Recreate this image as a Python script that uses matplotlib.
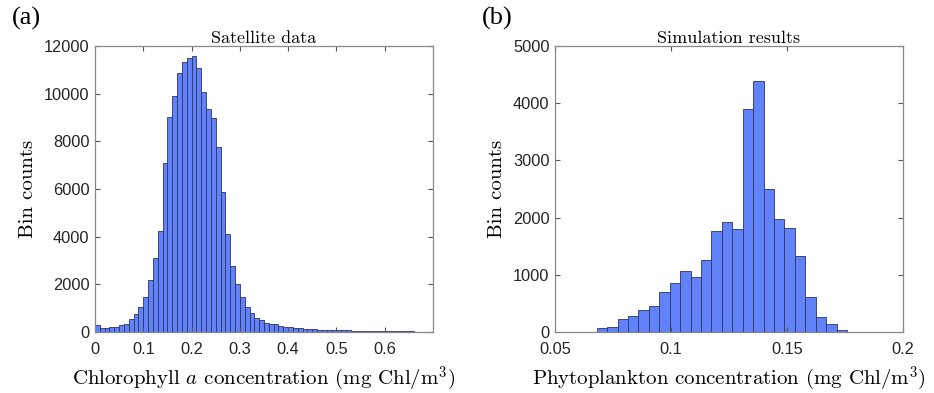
import matplotlib
matplotlib.use('agg')
import matplotlib.pyplot as plt
import numpy as np

# satellite chlorophyll histogram, bins of 0.01 from 0 to 0.7
sat_edges = np.round(np.arange(0, 0.7001, 0.01), 3)
sat_counts = [300, 150, 170, 190, 230, 290, 340, 530, 740, 1060,
              1480, 2180, 3090, 4220, 7080, 9040, 9900, 10850, 11330, 11480,
              11580, 11080, 10080, 9370, 8970, 7750, 5860, 4120, 2780, 2000,
              1480, 1060, 810, 600, 500, 390, 350, 320, 260, 220,
              190, 170, 150, 140, 110, 110, 100, 90, 90, 80,
              80, 70, 70, 60, 60, 55, 50, 50, 45, 45,
              40, 40, 35, 35, 30, 30, 20, 0, 0, 0]
sat_xticks = [0, 0.1, 0.2, 0.3, 0.4, 0.5, 0.6]
sat_xticklabels = ['0', '0.1', '0.2', '0.3', '0.4', '0.5', '0.6']
sat_yticks = [0, 2000, 4000, 6000, 8000, 10000, 12000]

# simulated phytoplankton histogram
sim_edges = 0.068 + 0.0045 * np.arange(25)
sim_counts = [70, 87, 227, 273, 385, 455, 700, 862, 1066, 961,
              1252, 1766, 1928, 1800, 3898, 4388, 2500, 1975, 1818, 1322,
              612, 262, 133, 35]
sim_xticks = [0.05, 0.1, 0.15, 0.2]
sim_xticklabels = ['0.05', '0.1', '0.15', '0.2']
sim_yticks = [0, 1000, 2000, 3000, 4000, 5000]

plt.rcParams['mathtext.fontset'] = 'cm'
face = '#6282fa'
edge = '#2b3468'
spine_col = '#888888'
tick_font = {'family': 'Liberation Sans', 'size': 11.8}
label_font = {'family': 'cmr10', 'size': 15}
title_font = {'family': 'cmr10', 'size': 13}

fig = plt.figure(figsize=(9.34, 3.93), dpi=100)
ax1 = fig.add_axes([0.1017, 0.1552, 0.3619, 0.7278])
ax2 = fig.add_axes([0.5942, 0.1552, 0.3723, 0.7278])


def style(ax, xticks, xticklabels, yticks):
    ax.set_xticks(xticks)
    ax.set_xticklabels(xticklabels, fontdict=tick_font, color='#262626')
    ax.set_yticks(yticks)
    ax.set_yticklabels([str(v) for v in yticks], fontdict=tick_font, color='#262626')
    ax.tick_params(direction='in', length=3.5, width=0.8, color='#555555',
                   top=True, right=True)
    ax.tick_params(axis='y', pad=4)
    ax.tick_params(axis='x', pad=7)
    for s in ax.spines.values():
        s.set_color(spine_col)
        s.set_linewidth(0.9)
    ax.set_ylabel('Bin counts', fontdict=label_font, labelpad=5)


ax1.bar(sat_edges[:-1], sat_counts, width=np.diff(sat_edges), align='edge',
        color=face, edgecolor=edge, linewidth=0.6)
ax1.set_xlim(0, 0.7)
ax1.set_ylim(0, 12000)
style(ax1, sat_xticks, sat_xticklabels, sat_yticks)
ax1.set_xlabel(r'Chlorophyll $a$ concentration (mg Chl/m$^3$)', fontdict=label_font, labelpad=6)
ax1.set_title('Satellite data', fontdict=title_font, pad=2)

ax2.bar(sim_edges[:-1], sim_counts, width=np.diff(sim_edges), align='edge',
        color=face, edgecolor=edge, linewidth=0.6)
ax2.set_xlim(0.05, 0.2)
ax2.set_ylim(0, 5000)
style(ax2, sim_xticks, sim_xticklabels, sim_yticks)
ax2.set_xlabel(r'Phytoplankton concentration (mg Chl/m$^3$)', fontdict=label_font, labelpad=6)
ax2.set_title('Simulation results', fontdict=title_font, pad=2)

fig.text(0.013, 0.952, '(a)', family='Liberation Serif', fontsize=19, va='center')
fig.text(0.516, 0.952, '(b)', family='Liberation Serif', fontsize=19, va='center')

plt.savefig('out.png', dpi=100)
